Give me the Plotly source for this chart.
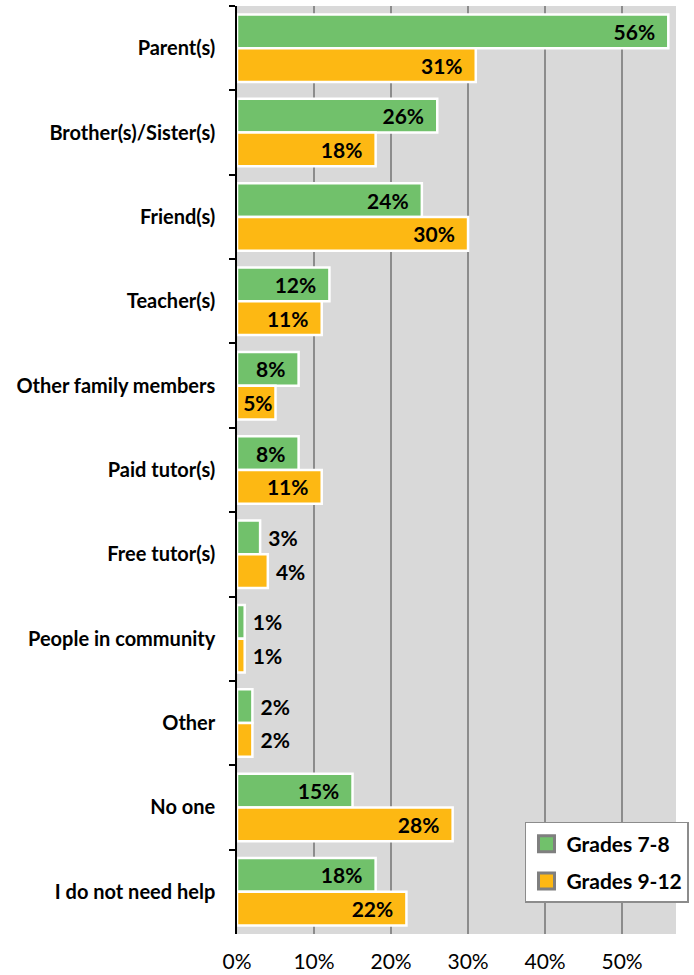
import plotly.graph_objects as go

categories = ["Parent(s)", "Brother(s)/Sister(s)", "Friend(s)", "Teacher(s)",
              "Other family members", "Paid tutor(s)", "Free tutor(s)",
              "People in community", "Other", "No one", "I do not need help"]
grades_7_8 = [56, 26, 24, 12, 8, 8, 3, 1, 2, 15, 18]
grades_9_12 = [31, 18, 30, 11, 5, 11, 4, 1, 2, 28, 22]
series_names = ["Grades 7-8", "Grades 9-12"]
colors = ["#71c16b", "#fdb813"]
x_ticks = [0, 10, 20, 30, 40, 50]
x_ticklabels = ["0%", "10%", "20%", "30%", "40%", "50%"]

FONT = "Lato, Open Sans, sans-serif"
NB = "\u00a0"

def positions(vals):
    return ["inside" if v >= 5 else "outside" for v in vals]

def labels(vals):
    out = []
    for v in vals:
        if v >= 8:
            out.append(f"{v}%" + NB * 2)
        elif v >= 5:
            out.append(f"{v}%")
        else:
            out.append(NB + f"{v}%")
    return out

fig = go.Figure()
for name, vals, col in zip(series_names, [grades_7_8, grades_9_12], colors):
    fig.add_trace(go.Bar(
        y=categories, x=vals, orientation="h", name=name,
        marker=dict(color=col, line=dict(color="white", width=2.5)),
        text=labels(vals),
        textposition=positions(vals),
        insidetextanchor="end",
        constraintext="none",
        textangle=0,
        textfont=dict(family=FONT, size=21, color="black", weight="bold"),
        cliponaxis=False,
        showlegend=False,
    ))

for i, (name, col) in enumerate(zip(series_names, colors)):
    fig.add_trace(go.Scatter(
        x=[None], y=[None], mode="markers", name=name,
        legendgroup=f"g{i}",
        marker=dict(symbol="square", size=16, color=col,
                    line=dict(color="#7f7f7f", width=3)),
        showlegend=True,
    ))

fig.update_layout(
    width=694, height=975,
    margin=dict(l=237, r=17, t=6, b=41),
    paper_bgcolor="white",
    plot_bgcolor="#d9d9d9",
    barmode="group",
    bargap=0.2,
    bargroupgap=0.0,
    font=dict(family=FONT, color="black"),
    legend=dict(
        x=0.6545, y=0.1207, xanchor="left", yanchor="top",
        bgcolor="white", bordercolor="#8c8c8c", borderwidth=1.5,
        font=dict(family=FONT, size=21, color="black", weight="bold"),
        itemsizing="trace",
        tracegroupgap=7,
    ),
    xaxis=dict(
        range=[0, 57], tickvals=x_ticks, ticktext=x_ticklabels,
        showgrid=True, gridcolor="#8c8c8c", gridwidth=1.5,
        zeroline=False, showline=False, ticks="",
        tickfont=dict(family=FONT, size=21, color="black"),
        ticklabelstandoff=13,
        automargin=False,
        fixedrange=True,
    ),
    yaxis=dict(
        autorange="reversed", type="category",
        showline=True, linecolor="black", linewidth=1.5,
        ticks="outside", tickson="boundaries", ticklen=6,
        tickcolor="black", tickwidth=1.5,
        showgrid=False,
        tickfont=dict(family=FONT, size=20, color="black", weight="bold"),
        ticklabelstandoff=16,
        automargin=False,
    ),
)

fig.write_html("out.html")
